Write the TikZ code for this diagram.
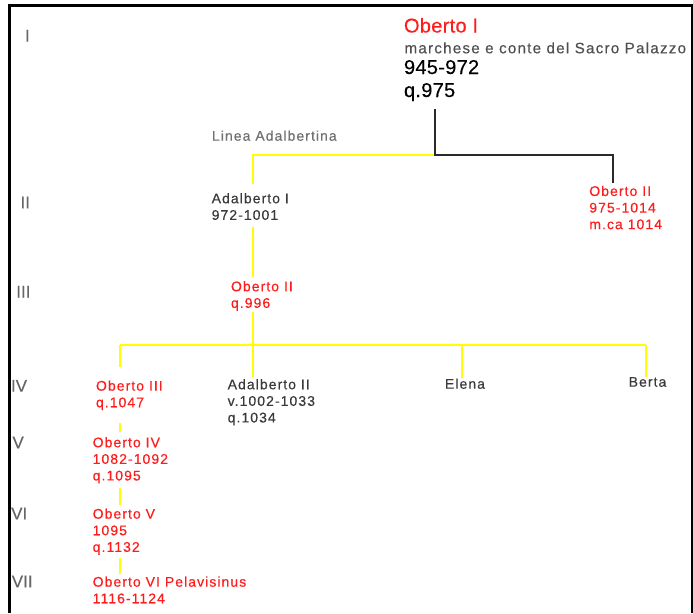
\documentclass[tikz,border=0pt]{standalone}
\usepackage{fontspec}
\setmainfont{Liberation Sans}
\newfontfamily\treefont[LetterSpace=7.5,FakeBold=0.3]{Liberation Sans}
\newfontfamily\widefont[LetterSpace=8,FakeBold=0.3]{Liberation Sans}
\newfontfamily\bigfont[LetterSpace=1.5,FakeBold=0.2]{Liberation Sans}
\newfontfamily\genfont[FakeBold=0.2]{Liberation Sans}

\definecolor{namered}{HTML}{FF1C1C}
\definecolor{textgray}{HTML}{3A3A3A}
\definecolor{lightgray}{HTML}{707070}
\definecolor{subgray}{HTML}{505050}
\definecolor{gengray}{HTML}{666666}
\definecolor{lineyellow}{HTML}{FFFF00}
\definecolor{linedark}{HTML}{2A2A2A}

\tikzset{
  person/.style={inner sep=0pt, outer sep=0pt, align=left, anchor=north west,
    font=\treefont\fontsize{14}{16.6}\selectfont},
  label1/.style={inner sep=0pt, outer sep=0pt, anchor=base west,
    font=\treefont\fontsize{14}{16.6}\selectfont},
  redname/.style={text=namered},
  grayname/.style={text=textgray},
  generation/.style={inner sep=0pt, outer sep=0pt, anchor=base west,
    text=gengray, font=\genfont\fontsize{17}{19}\selectfont},
  headline/.style={inner sep=0pt, outer sep=0pt, anchor=base west,
    font=\bigfont\fontsize{20}{22}\selectfont},
  yline/.style={draw=lineyellow, line width=1.7pt},
  bline/.style={draw=linedark, line width=1.7pt},
  frameline/.style={draw=black, line width=2.2pt}
}

\begin{document}
\begin{tikzpicture}[x=1pt,y=-1pt]
  \useasboundingbox (0,0) rectangle (693,613);
  \fill[white] (0,0) rectangle (693,613);

  % frame: top, left and right edges
  \draw[frameline] (9.5,613) -- (9.5,5.5) -- (692,5.5) -- (692,613);

  % generations
  \node[generation] (g1) at (25,41.7)   {I};
  \node[generation] (g2) at (20.5,208.3) {II};
  \node[generation] (g3) at (16.3,297.5) {III};
  \node[generation] (g4) at (11,391.7) {IV};
  \node[generation] (g5) at (12.5,448.3) {V};
  \node[generation] (g6) at (11.2,519.3)   {VI};
  \node[generation] (g7) at (11.8,587.3) {VII};

  % founder
  \node[headline, text=namered] (o1) at (404,32.5) {Oberto I};
  \node[inner sep=0pt, outer sep=0pt, anchor=base west, text=subgray,
        font=\widefont\fontsize{15.2}{17}\selectfont] (o1title) at (404.5,53.3)
        {marchese e conte del Sacro Palazzo};
  \node[headline, text=black] (o1dates) at (404,74) {945-972};
  \node[headline, text=black] (o1q) at (404,97) {q.975};

  % second generation
  \node[label1, text=lightgray] (linea) at (212,140.7) {Linea Adalbertina};
  \node[person, grayname] (adal1) at (211.7,193.1) {Adalberto I\\972-1001};
  \node[person, redname] (ob2r) at (589.3,185.8) {Oberto II\\975-1014\\m.ca 1014};

  % third generation
  \node[person, redname] (ob2) at (231,281.1) {Oberto II\\q.996};

  % fourth generation
  \node[person, redname] (ob3) at (96,380.5) {Oberto III\\q.1047};
  \node[person, grayname] (adal2) at (227.7,379.1) {Adalberto II\\v.1002-1033\\q.1034};
  \node[label1, grayname] (elena) at (445,388.7) {Elena};
  \node[label1, grayname] (berta) at (628.7,386.7) {Berta};

  % later generations
  \node[person, redname] (ob4) at (92.7,437.1) {Oberto IV\\1082-1092\\q.1095};
  \node[person, redname] (ob5) at (92.7,508.5) {Oberto V\\1095\\q.1132};
  \node[person, redname] (ob6) at (92.7,576.5) {Oberto VI Pelavisinus\\1116-1124};

  % junctions and vertical guides of the tree
  \coordinate (j1) at (435,155);
  \coordinate (ya) at (253,155);
  \coordinate (j2) at (253,345);
  \coordinate (xl) at (120,345);
  \coordinate (xe) at (461.7,345);
  \coordinate (xb) at (645.7,345);
  \coordinate (xr) at (613.3,155);

  % descent from Oberto I
  \draw[yline] (j1) -- (ya) -- ([yshift=9pt]ya |- adal1.north);
  \draw[bline] ([yshift=-8pt]j1 |- o1q.south) -- (j1) -- (xr) -- ([yshift=3pt]xr |- ob2r.north);

  % Adalberto I to Oberto II
  \draw[yline] ([yshift=-7pt]ya |- adal1.south) -- ([yshift=4pt]ya |- ob2.north);

  % Oberto II to his children
  \draw[yline] ([yshift=-1.5pt]j2 |- ob2.south) -- ([yshift=2pt]j2 |- adal2.north);
  \draw[yline] (xl) -- (xb);
  \draw[yline] (xl) -- ([yshift=13.5pt]xl |- ob3.north);
  \draw[yline] (xe) -- ([yshift=10.7pt]xe |- elena.base);
  \draw[yline] (xb) -- ([yshift=9.4pt]xb |- berta.base);

  % line of Oberto III
  \draw[yline] ([yshift=-12.5pt]xl |- ob3.south) -- ([yshift=5.5pt]xl |- ob4.north);
  \draw[yline] ([yshift=-5pt]xl |- ob4.south) -- ([yshift=3.5pt]xl |- ob5.north);
  \draw[yline] ([yshift=-3.5pt]xl |- ob5.south) -- ([yshift=2.5pt]xl |- ob6.north);
\end{tikzpicture}
\end{document}
